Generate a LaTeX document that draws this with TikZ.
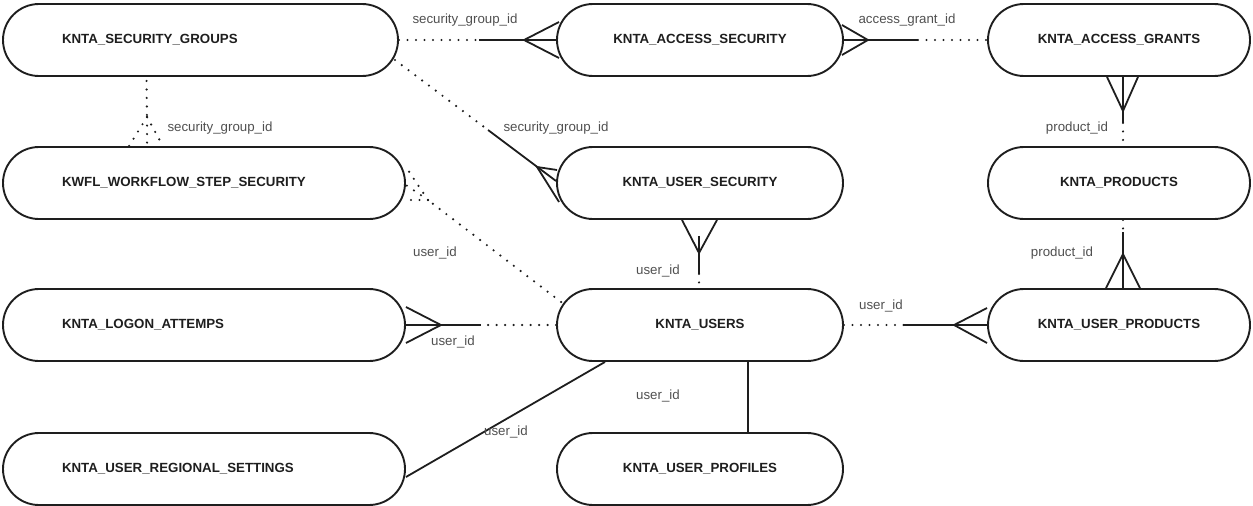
\documentclass[tikz,border=0pt]{standalone}
\usepackage{fontspec}
\setmainfont{Liberation Sans}
\usetikzlibrary{calc}
\definecolor{ink}{HTML}{1E1E1E}
\definecolor{lbl}{HTML}{505050}
\tikzset{
 entity/.style={draw=ink, line width=1.9pt, rectangle, rounded corners=36pt, minimum height=72pt, inner sep=0pt, font=\fontsize{13.3}{15}\selectfont\bfseries, text=ink},
 colone/.style={entity, minimum width=402pt, text width=284pt, align=left},
 coltwo/.style={entity, minimum width=286pt},
 colthree/.style={entity, minimum width=262pt},
 solidline/.style={draw=ink, line width=1.8pt},
 dotline/.style={draw=ink, line width=2.4pt, line cap=round, dash pattern=on 0pt off 8.5pt},
 rel/.style={font=\fontsize{13.3}{15}\selectfont, text=lbl, inner sep=0pt},
}
\begin{document}
\begin{tikzpicture}[x=1pt,y=-1pt]
\useasboundingbox (0,0) rectangle (1253,506);
% entities
\node[entity, minimum width=395pt, text width=277pt, align=left] (sg) at (200.5,40) {KNTA\_SECURITY\_GROUPS};
\node[colone] (ws) at (204,183) {KWFL\_WORKFLOW\_STEP\_SECURITY};
\node[colone] (la) at (204,325) {KNTA\_LOGON\_ATTEMPS};
\node[colone] (rs) at (204,469) {KNTA\_USER\_REGIONAL\_SETTINGS};
\node[coltwo] (as) at (700,40) {KNTA\_ACCESS\_SECURITY};
\node[coltwo] (us) at (700,183) {KNTA\_USER\_SECURITY};
\node[coltwo] (u) at (700,325) {KNTA\_USERS};
\node[coltwo] (up) at (700,469) {KNTA\_USER\_PROFILES};
\node[colthree] (ag) at (1119,40) {KNTA\_ACCESS\_GRANTS};
\node[colthree] (p) at (1119,183) {KNTA\_PRODUCTS};
\node[colthree] (upr) at (1119,325) {KNTA\_USER\_PRODUCTS};

% C1 security groups -> access security
\coordinate (c1m) at ([shift={(-77,0)}]as.west);
\draw[dotline] (sg.east) -- (c1m);
\draw[solidline] (c1m) -- (as.west);
\draw[solidline] ([shift={(3,-18)}]as.west) -- ([shift={(-32,0)}]as.west) -- ([shift={(3,18)}]as.west);
\node[rel] (l1) at (465,20) {security\_group\_id};

% C2 access security -> access grants
\coordinate (c2m) at ([shift={(74,0)}]as.east);
\draw[solidline] (as.east) -- (c2m);
\draw[dotline] (c2m) -- (ag.west);
\draw[solidline] ([shift={(-2,-15)}]as.east) -- ([shift={(24,0)}]as.east) -- ([shift={(-2,15)}]as.east);
\node[rel] (l2) at (907,20) {access\_grant\_id};

% C3 security groups -> workflow step security
\coordinate (c3a) at ([shift={(-54,4)}]sg.south);
\coordinate (c3b) at ([shift={(-57,-29)}]ws.north);
\draw[dotline] (c3a) -- (c3b);
\draw[dotline] (c3b) -- ([shift={(-75,0)}]ws.north);
\draw[dotline] (c3b) -- ([shift={(-57,0)}]ws.north);
\draw[dotline] (c3b) -- ([shift={(-41,0)}]ws.north);
\node[rel] (l3) at (220,128) {security\_group\_id};

% C4 security groups -> user security
\coordinate (c4a) at ([shift={(-4,20)}]sg.east);
\coordinate (c4m) at ([shift={(-68,-53)}]us.west);
\draw[dotline] (c4a) -- (c4m);
\draw[solidline] (c4m) -- ([shift={(0,-2)}]us.west);
\draw[solidline] ([shift={(1,-13)}]us.west) -- ([shift={(-19,-16)}]us.west) -- ([shift={(3,19)}]us.west);
\node[rel] (l4) at (556,128) {security\_group\_id};

% C5 workflow step security -> users
\coordinate (c5a) at ([shift={(22,17)}]ws.east);
\coordinate (c5b) at ([shift={(5,-23)}]u.west);
\draw[dotline] (c5b) -- (c5a);
\draw[dotline] (c5a) -- ([shift={(0,-16)}]ws.east);
\draw[dotline] (c5a) -- ([shift={(0,2)}]ws.east);
\draw[dotline] (c5a) -- ([shift={(1,17)}]ws.east);
\node[rel] (l5) at (435,253) {user\_id};

% C6 user security -> users
\coordinate (c6a) at ([shift={(-1,33)}]us.south);
\coordinate (c6t) at ([shift={(-1,16)}]us.south);
\coordinate (c6m) at ([shift={(-1,54)}]us.south);
\draw[solidline] ([shift={(-18,0)}]us.south) -- (c6a) -- ([shift={(17,0)}]us.south);
\draw[solidline] (c6t) -- (c6m);
\draw[dotline] (c6m) -- ([shift={(-1,0)}]u.north);
\node[rel] (l6) at (658,271) {user\_id};

% C7 access grants -> products
\coordinate (c7a) at ([shift={(4,34)}]ag.south);
\coordinate (c7m) at ([shift={(4,46)}]ag.south);
\draw[solidline] ([shift={(-12,0)}]ag.south) -- (c7a) -- ([shift={(19,0)}]ag.south);
\draw[solidline] ([shift={(4,0)}]ag.south) -- (c7m);
\draw[dotline] (c7m) -- ([shift={(4,0)}]p.north);
\node[rel] (l7) at (1077,128) {product\_id};

% C8 user products -> products
\coordinate (c8a) at ([shift={(4,-34)}]upr.north);
\coordinate (c8m) at ([shift={(4,-56)}]upr.north);
\draw[solidline] ([shift={(-13,0)}]upr.north) -- (c8a) -- ([shift={(21,0)}]upr.north);
\draw[solidline] ([shift={(4,0)}]upr.north) -- (c8m);
\draw[dotline] ([shift={(4,0)}]p.south) -- (c8m);
\node[rel] (l8) at (1062,253) {product\_id};

% C9 users -> user products
\coordinate (c9m) at ([shift={(60,0)}]u.east);
\draw[dotline] (u.east) -- (c9m);
\draw[solidline] (c9m) -- (upr.west);
\draw[solidline] ([shift={(0,-17)}]upr.west) -- ([shift={(-33,0)}]upr.west) -- ([shift={(0,18)}]upr.west);
\node[rel] (l9) at (881,306) {user\_id};

% C10 logon attemps -> users
\coordinate (c10m) at ([shift={(75,0)}]la.east);
\draw[solidline] (la.east) -- (c10m);
\draw[dotline] (u.west) -- (c10m);
\draw[solidline] ([shift={(0,-18)}]la.east) -- ([shift={(35,0)}]la.east) -- ([shift={(0,18)}]la.east);
\node[rel] (l10) at (453,342) {user\_id};

% C11 users -> regional settings
\draw[solidline] ([shift={(-95,0)}]u.south) -- ([shift={(0,8)}]rs.east);
\node[rel] (l11) at (506,432) {user\_id};

% C12 users -> user profiles
\draw[solidline] ([shift={(48,0)}]u.south) -- ([shift={(48,0)}]up.north);
\node[rel] (l12) at (658,396) {user\_id};
\end{tikzpicture}
\end{document}
